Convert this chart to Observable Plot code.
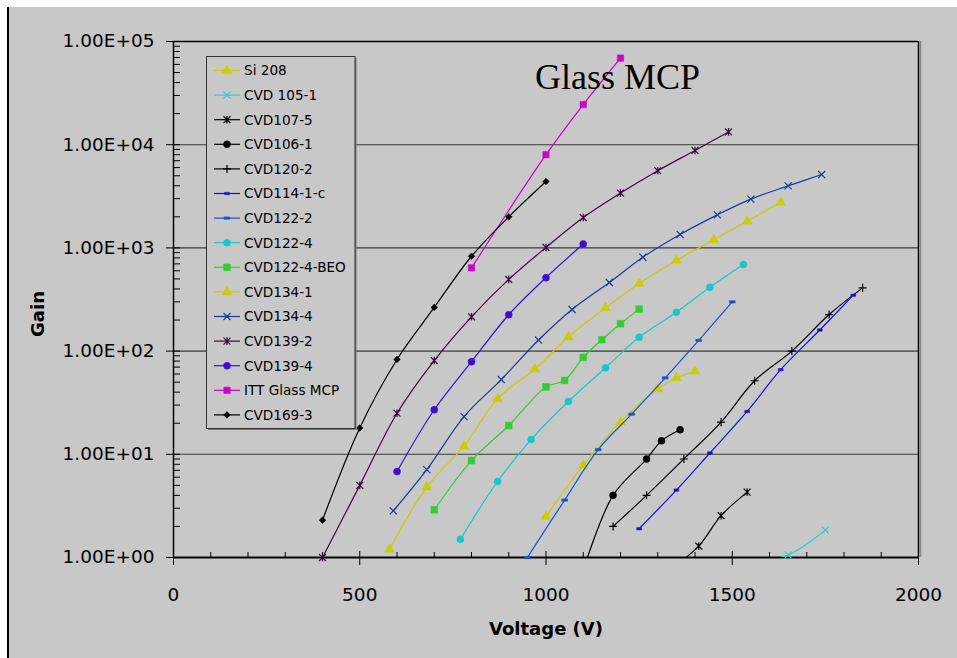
<!DOCTYPE html>
<html><head><meta charset="utf-8">
<script src="https://cdn.jsdelivr.net/npm/d3@7"></script>
<script src="https://cdn.jsdelivr.net/npm/@observablehq/plot@0.6"></script>
<style>
body{margin:0;background:#fff;}
#wrap{position:relative;width:957px;height:658px;overflow:hidden;}
#bg{position:absolute;left:7px;top:7px;right:0;bottom:0;background:#c8c8c8;border-left:2px solid #000;}
#wrap svg{position:absolute;left:0;top:0;}
</style></head>
<body><div id="wrap"><div id="bg"></div></div>
<script>
// ---- data: [Voltage (V), Gain] ----
const si208      = [[1000,2.5],[1100,7.8],[1200,20.5],[1300,43],[1350,55],[1400,64]];
const cvd105_1   = [[1550,0.87],[1650,1.06],[1750,1.84]];
const cvd107_5   = [[1350,0.85],[1410,1.29],[1470,2.54],[1540,4.3]];
const cvd106_1   = [[1100,0.75],[1180,4.0],[1270,9.0],[1310,13.5],[1360,17.3]];
const cvd120_2   = [[1180,2.0],[1270,4.0],[1370,9.0],[1470,20.5],[1560,51.6],[1660,100],[1760,226],[1850,410]];
const cvd114_1c  = [[1250,1.9],[1350,4.5],[1440,10.3],[1540,26],[1630,66],[1735,160],[1825,348]];
const cvd122_2   = [[950,1.0],[1050,3.6],[1140,11.1],[1230,24.5],[1320,55],[1410,127],[1500,300]];
const cvd122_4   = [[770,1.5],[870,5.45],[960,13.9],[1060,32.5],[1160,69],[1250,136],[1350,238],[1440,416],[1530,690]];
const cvd122_4beo= [[700,2.9],[800,8.7],[900,19],[1000,45],[1050,52],[1100,87],[1150,129],[1200,184],[1250,255]];
const cvd134_1   = [[580,1.2],[680,4.8],[780,12],[870,34.5],[970,67],[1060,137],[1160,263],[1250,452],[1350,755],[1450,1200],[1540,1815],[1630,2750]];
const cvd134_4   = [[590,2.83],[680,7.1],[780,23.2],[880,53],[980,128],[1070,253],[1170,462],[1260,813],[1360,1350],[1460,2090],[1550,2970],[1650,3990],[1740,5140]];
const cvd139_2   = [[400,1.0],[500,5.0],[600,25],[700,81],[800,215],[900,495],[1000,1010],[1100,1970],[1200,3400],[1300,5600],[1400,8800],[1490,13300]];
const cvd139_4   = [[600,6.8],[700,27],[800,79],[900,225],[1000,515],[1100,1090]];
const ittGlass   = [[800,640],[1000,8000],[1100,24500],[1200,69000]];
const cvd169_3   = [[400,2.3],[500,18],[600,83],[700,265],[800,830],[900,2000],[1000,4400]];

const seriesNames = ["Si 208","CVD 105-1","CVD107-5","CVD106-1","CVD120-2","CVD114-1-c","CVD122-2","CVD122-4","CVD122-4-BEO","CVD134-1","CVD134-4","CVD139-2","CVD139-4","ITT Glass MCP","CVD169-3"];
const seriesData = [si208,cvd105_1,cvd107_5,cvd106_1,cvd120_2,cvd114_1c,cvd122_2,cvd122_4,cvd122_4beo,cvd134_1,cvd134_4,cvd139_2,cvd139_4,ittGlass,cvd169_3];

const xTicks = [0,500,1000,1500,2000];
const xMinorTicks = [100,200,300,400,600,700,800,900,1100,1200,1300,1400,1600,1700,1800,1900];
const yTicks = [1,10,100,1000,10000,100000];
const yTickLabels = ["1.00E+00","1.00E+01","1.00E+02","1.00E+03","1.00E+04","1.00E+05"];
const chartTitle = "Glass MCP";
const xTitle = "Voltage (V)";
const yTitle = "Gain";

// ---- styles ----
const symStar = {draw(c,s){const r=Math.sqrt(s)/2;c.moveTo(-r,-r);c.lineTo(r,r);c.moveTo(r,-r);c.lineTo(-r,r);c.moveTo(0,-r*1.1);c.lineTo(0,r*1.1);}};
const symDash = {draw(c,s){const w=Math.sqrt(s);const h=2.4;c.rect(-w/2,-h/2,w,h);}};
const styles = [
  {color:"#cccc00", sym:d3.symbolTriangle, r:3.6, fill:true},
  {color:"#33cccc", sym:d3.symbolTimes, r:3.3, fill:false},
  {color:"#000000", sym:symStar, r:3.9, fill:false},
  {color:"#000000", sym:d3.symbolCircle, r:3.5, fill:true},
  {color:"#000000", sym:d3.symbolPlus, r:2.7, fill:false},
  {color:"#1414cc", sym:symDash, r:2.7, fill:true},
  {color:"#2050d0", sym:symDash, r:3.3, fill:true},
  {color:"#18c8c8", sym:d3.symbolCircle, r:3.5, fill:true},
  {color:"#33cc33", sym:d3.symbolSquare, r:3.8, fill:true},
  {color:"#cccc00", sym:d3.symbolTriangle, r:3.6, fill:true},
  {color:"#1a3a9a", sym:d3.symbolTimes, r:3.3, fill:false},
  {color:"#3d0a3d", sym:symStar, r:3.9, fill:false},
  {color:"#3a10d0", sym:d3.symbolCircle, r:3.5, fill:true},
  {color:"#cc00cc", sym:d3.symbolSquare, r:3.6, fill:true},
  {color:"#000000", sym:d3.symbolDiamond2, r:3.0, fill:true}
];

const yInside = [];
for (let k = 0; k < 5; k++) for (let m = 1; m <= 9; m++) yInside.push(m * 10 ** k);
yInside.push(100000);

const W = 957, H = 658, ML = 173, MR = 39, MT = 41, MB = 101;
const FW = W - ML - MR, FH = H - MT - MB;

const seriesMarks = seriesData.flatMap((arr, i) => {
  const st = styles[i];
  const rows = arr.map(([v, g]) => ({v, g}));
  return [
    Plot.line(rows, {x:"v", y:"g", stroke:st.color, strokeWidth:1.2, curve:"catmull-rom", clip:true}),
    Plot.dot(rows.filter(d => d.g >= 1), {x:"v", y:"g", symbol:st.sym, r:st.r,
      fill: st.fill ? st.color : "none", stroke: st.color, strokeWidth: st.fill ? 0.5 : 1.2})
  ];
});

const chart = Plot.plot({
  width: W, height: H, marginLeft: ML, marginRight: MR, marginTop: MT, marginBottom: MB,
  style: {background:"transparent", fontFamily:"DejaVu Sans", fontSize:"18px", color:"#000", overflow:"visible"},
  x: {domain:[0,2000], label:null},
  y: {type:"log", domain:[1,100000], label:null},
  marks: [
    Plot.ruleY([10,100,1000,10000], {stroke:"#3a3a3a", strokeWidth:1.1}),
    Plot.ruleY([100000], {stroke:"#000", strokeWidth:1.5}),
    Plot.ruleX([2000], {stroke:"#000", strokeWidth:1.5}),
    Plot.ruleX([2000], {stroke:"#888", strokeWidth:1.5, dx:2}),
    Plot.tickY(yInside, {stroke:"#000", insetRight: FW - 7}),
    Plot.tickX(xMinorTicks, {stroke:"#000", insetTop: FH - 5}),
    Plot.tickX(xTicks, {stroke:"#000", insetTop: FH - 6}),
    Plot.axisY({ticks: yTicks, tickFormat: d => yTickLabels[yTicks.indexOf(d)], tickSize:7, tickPadding:12, fontSize:18.5, label:null}),
    Plot.axisX({ticks: xTicks, tickFormat: d => String(d), tickSize:8, tickPadding:22, fontSize:18.5, label:null}),
    Plot.ruleX([0], {stroke:"#000", strokeWidth:1.5}),
    Plot.ruleY([1], {stroke:"#000", strokeWidth:2}),
    ...seriesMarks,
    Plot.text([xTitle], {frameAnchor:"bottom", dy:77, fontWeight:"bold", fontSize:18})
  ]
});
document.getElementById("wrap").appendChild(chart);

// ---- legend, title, y title ----
const svg = d3.select(chart);
svg.append("text").attr("transform", "translate(38,314) rotate(-90)")
  .attr("text-anchor", "middle").attr("dy", "0.36em")
  .attr("font-family", "DejaVu Sans").attr("font-weight", "bold").attr("font-size", 18).attr("fill", "#000").text(yTitle);
svg.append("text").attr("x", 535).attr("y", 89).attr("text-anchor", "start")
  .attr("font-family", "Liberation Serif").attr("font-size", 36).attr("fill", "#000").text(chartTitle);

const lg = svg.append("g");
lg.append("rect").attr("x", 208).attr("y", 58).attr("width", 148.5).attr("height", 372).attr("fill", "#777");
lg.append("rect").attr("x", 206.5).attr("y", 56.5).attr("width", 148.5).attr("height", 372)
  .attr("fill", "#c8c8c8").attr("stroke", "#333").attr("stroke-width", 1);
seriesNames.forEach((name, i) => {
  const st = styles[i];
  const y = 70.5 + i * 24.6;
  lg.append("line").attr("x1", 214).attr("x2", 240).attr("y1", y).attr("y2", y)
    .attr("stroke", st.color).attr("stroke-width", 1.2);
  lg.append("path").attr("transform", `translate(227,${y})`)
    .attr("d", d3.symbol(st.sym, st.r * st.r * Math.PI)())
    .attr("fill", st.fill ? st.color : "none").attr("stroke", st.color).attr("stroke-width", st.fill ? 0.5 : 1.2);
  lg.append("text").attr("x", 244).attr("y", y).attr("dy", "0.36em").attr("text-anchor", "start")
    .attr("font-family", "DejaVu Sans").attr("font-size", 13.6).attr("fill", "#000").text(name);
});
</script>
</body></html>
